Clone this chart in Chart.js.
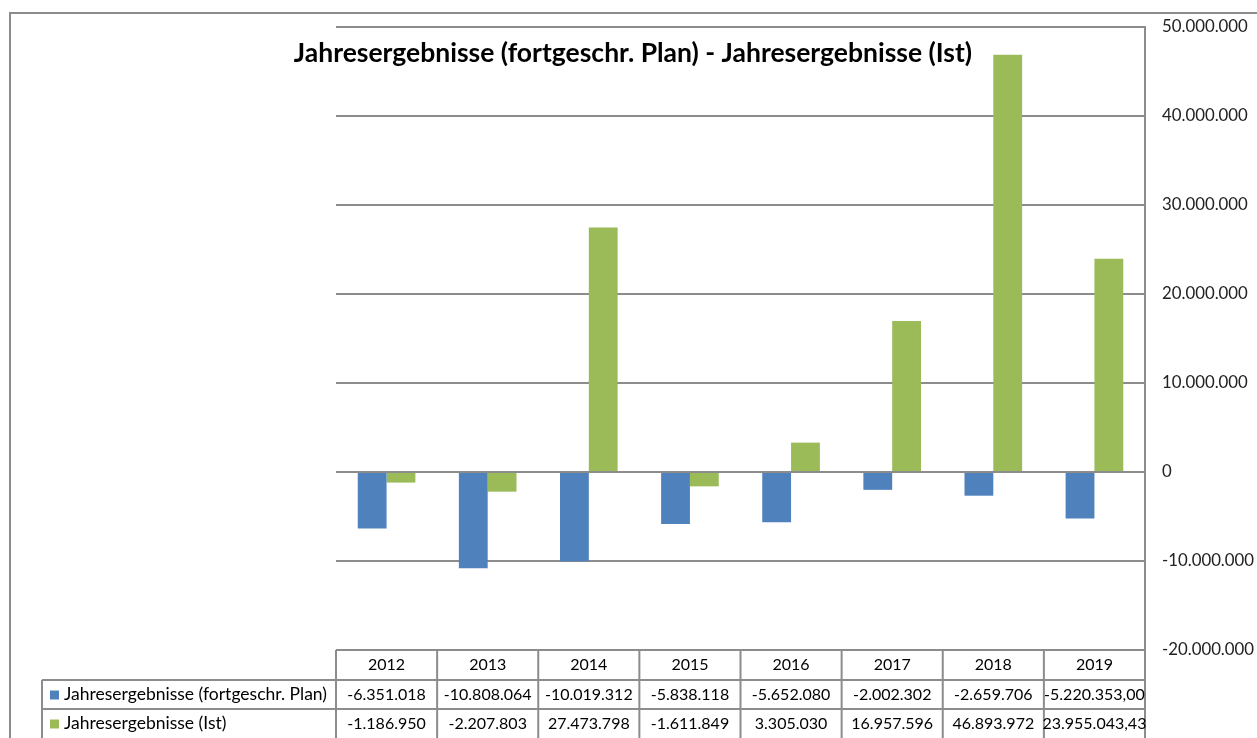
<!DOCTYPE html>
<html>
<head>
<meta charset="utf-8">
<script src="https://cdn.jsdelivr.net/npm/chart.js@4/dist/chart.umd.min.js"></script>
<style>
  body { margin: 0; background: #fff; }
  #wrap { width: 1257px; height: 738px; }
</style>
</head>
<body>
<div id="wrap"><canvas id="resultChart" width="1257" height="738"></canvas></div>
<script>
'use strict';

// Data
const years = ['2012', '2013', '2014', '2015', '2016', '2017', '2018', '2019'];
const planValues = [-6351018, -10808064, -10019312, -5838118, -5652080, -2002302, -2659706, -5220353.00];
const istValues = [-1186950, -2207803, 27473798, -1611849, 3305030, 16957596, 46893972, 23955043.43];
const tableDecimals = [0, 0, 0, 0, 0, 0, 0, 2];
const yTicks = [50000000, 40000000, 30000000, 20000000, 10000000, 0, -10000000, -20000000];

const titleText = 'Jahresergebnisse (fortgeschr. Plan) - Jahresergebnisse (Ist)';
const planLabel = 'Jahresergebnisse (fortgeschr. Plan)';
const istLabel = 'Jahresergebnisse (Ist)';

const blue = '#4f81bd';
const green = '#9bbb59';
const lineGray = '#8c8c8c';
const fontFamily = 'Lato, "Open Sans", sans-serif';

// German number format: 1.234.567,89
function fmtDe(v, dec) {
  const neg = v < 0;
  const parts = Math.abs(v).toFixed(dec).split('.');
  const int = parts[0].replace(/\B(?=(\d{3})+(?!\d))/g, '.');
  return (neg ? '-' : '') + int + (dec > 0 ? ',' + parts[1] : '');
}

// Frame, title and data table below the plot
const extrasPlugin = {
  id: 'extras',
  afterDraw(chart) {
    const ctx = chart.ctx;
    const area = chart.chartArea;
    const x = chart.scales.x;
    const step = x.getPixelForValue(1) - x.getPixelForValue(0);
    const rowY = [area.bottom, 680, 709, 738];
    const labelLeft = 42;

    ctx.save();
    ctx.strokeStyle = lineGray;
    ctx.lineWidth = 2;

    // outer frame
    ctx.beginPath();
    ctx.moveTo(10, 738);
    ctx.lineTo(10, 13);
    ctx.lineTo(1257, 13);
    ctx.stroke();

    // table lines
    ctx.beginPath();
    ctx.moveTo(area.left, rowY[0]);
    ctx.lineTo(area.right, rowY[0]);
    ctx.moveTo(labelLeft, rowY[1]);
    ctx.lineTo(area.right, rowY[1]);
    ctx.moveTo(labelLeft, rowY[2]);
    ctx.lineTo(area.right, rowY[2]);
    ctx.moveTo(labelLeft, rowY[1]);
    ctx.lineTo(labelLeft, rowY[3]);
    for (let i = 0; i <= years.length; i++) {
      const cx = area.left + i * step;
      ctx.moveTo(cx, rowY[0]);
      ctx.lineTo(cx, rowY[3]);
    }
    ctx.stroke();

    // title
    ctx.fillStyle = '#000';
    ctx.font = 'bold 26.5px ' + fontFamily;
    ctx.textAlign = 'center';
    ctx.textBaseline = 'middle';
    ctx.fillText(titleText, 633, 53);

    // table text
    ctx.font = '16px ' + fontFamily;
    ctx.fillStyle = '#000';
    years.forEach((yr, i) => {
      const cx = x.getPixelForValue(i);
      ctx.fillText(yr, cx, (rowY[0] + rowY[1]) / 2);
      ctx.fillText(fmtDe(planValues[i], tableDecimals[i]), cx, (rowY[1] + rowY[2]) / 2);
      ctx.fillText(fmtDe(istValues[i], tableDecimals[i]), cx, (rowY[2] + rowY[3]) / 2);
    });

    // row labels with legend keys
    ctx.font = '17.5px ' + fontFamily;
    ctx.textAlign = 'left';
    [[planLabel, blue, (rowY[1] + rowY[2]) / 2], [istLabel, green, (rowY[2] + rowY[3]) / 2]].forEach(r => {
      ctx.fillStyle = r[1];
      ctx.fillRect(50, r[2] - 4, 9, 9);
      ctx.fillStyle = '#000';
      ctx.fillText(r[0], 64, r[2]);
    });
    ctx.restore();
  }
};

const resultData = {
  labels: years,
  datasets: [
    {
      label: planLabel,
      backgroundColor: blue,
      data: planValues,
    },
    {
      label: istLabel,
      backgroundColor: green,
      data: istValues,
    },
  ],
};

const resultConfig = {
  type: 'bar',
  data: resultData,
  options: {
    responsive: false,
    animation: false,
    categoryPercentage: 0.57,
    barPercentage: 1.0,
    layout: { padding: { left: 336, top: 24, bottom: 88, right: 0 } },
    plugins: {
      legend: { display: false },
      title: { display: false },
      tooltip: { enabled: false },
    },
    scales: {
      x: { display: false },
      y: {
        position: 'right',
        min: -20000000,
        max: 50000000,
        afterBuildTicks: s => { s.ticks = yTicks.map(v => ({ value: v })); },
        afterFit: s => { s.width = 112; },
        ticks: {
          color: '#222',
          padding: 17,
          font: { family: fontFamily, size: 16.8 },
          callback: v => fmtDe(v, 0),
        },
        grid: { color: lineGray, lineWidth: 2, drawTicks: false },
        border: { color: lineGray, width: 2 },
      },
    },
  },
  plugins: [extrasPlugin],
};

const resultChart = new Chart(document.getElementById('resultChart'), resultConfig);
</script>
</body>
</html>
